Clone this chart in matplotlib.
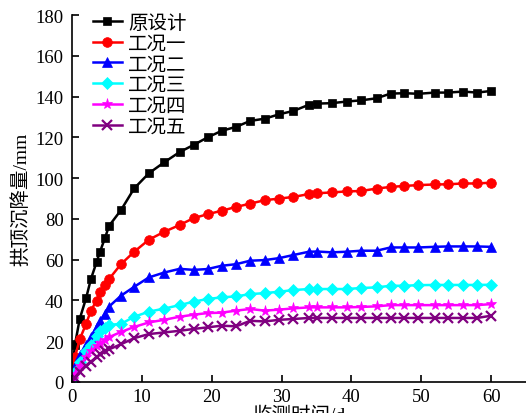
import matplotlib
matplotlib.use('Agg')
import matplotlib.pyplot as plt

# monitoring days (shared by all series)
days = [0, 0.4, 1.1, 2.0, 2.7, 3.5, 4.0, 4.7, 5.3, 7.0, 8.9, 11.0, 13.2, 15.4, 17.4, 19.4,
        21.4, 23.5, 25.5, 27.6, 29.7, 31.7, 33.9, 35.1, 37.2, 39.3, 41.4, 43.6, 45.6,
        47.6, 49.6, 51.9, 53.8, 56.0, 58.0, 60.0]

original = [3, 18, 31, 41, 50.5, 58.7, 63.9, 70.5, 76.6, 84.3, 95, 102.4, 107.8, 112.8,
            116.3, 120, 123.2, 125.2, 128.1, 129.2, 131.4, 133, 136, 136.6, 136.8, 137.6,
            138.2, 139.2, 141.5, 141.7, 141.4, 142, 142, 142.5, 142, 142.8]
case1 = [2, 12, 21, 28.4, 35, 39.9, 44, 47.5, 50.5, 57.8, 63.9, 69.8, 73.7, 77, 80.4,
         82.3, 84, 85.9, 87.5, 89.2, 90, 90.8, 92.2, 92.6, 93, 93.5, 93.7, 94.9, 95.7,
         96.2, 96.6, 96.9, 97, 97.4, 97.4, 97.8]
case2 = [1.5, 8, 13, 18, 22, 27, 30, 33.5, 37, 42.3, 46.7, 51.3, 53.7, 55.5, 55, 55.4,
         57, 57.8, 59.5, 59.8, 60.8, 62.3, 63.9, 64, 63.6, 63.9, 64.4, 64.4, 66, 66, 66,
         66.3, 66.5, 66.5, 66.5, 66.3]
case3 = [1, 5, 10, 15, 18, 22.5, 25, 26.5, 28, 28.5, 32, 34.5, 36, 37.7, 39.4, 40.7,
         41.5, 42, 43.1, 43.6, 44.3, 45.1, 45.6, 45.6, 45.6, 45.6, 46.1, 46.4, 47.2,
         47.2, 47.5, 47.6, 47.6, 47.6, 47.6, 47.7]
case4 = [0.8, 4, 8, 12, 15, 17.5, 19, 20.5, 22, 24.5, 27, 29.2, 30.5, 32, 33, 33.8, 34,
         35, 35.8, 35, 35.5, 36.1, 36.6, 36.6, 36.6, 36.6, 36.8, 37.1, 37.7, 37.7, 37.7,
         37.7, 37.7, 37.7, 37.7, 38.2]
case5 = [0.5, 2, 5, 8, 10, 12, 13.5, 15, 16, 18.5, 21.5, 23.5, 24.3, 25.1, 26, 26.8,
         27.6, 27.3, 30, 29.7, 30.5, 30.9, 31.4, 31.4, 31.4, 31.4, 31.4, 31.4, 31.4,
         31.4, 31.4, 31.4, 31.4, 31.4, 31.4, 32.5]

labels = ['原设计', '工况一', '工况二', '工况三', '工况四', '工况五']
series = [original, case1, case2, case3, case4, case5]
colors = ['black', 'red', 'blue', 'cyan', 'magenta', '#800080']
markers = ['s', 'o', '^', 'D', '*', 'x']
msizes = [6, 7, 7, 6, 8, 7]

fonts = ['Liberation Serif', 'Noto Sans CJK SC', 'DejaVu Sans']
plt.rcParams['font.family'] = fonts

fig = plt.figure(figsize=(5.26, 4.14), dpi=100)
ax = fig.add_axes([0.137, 0.075, 0.863, 0.886])

for vals, lab, c, m, ms in zip(series, labels, colors, markers, msizes):
    ax.plot(days, vals, color=c, marker=m, markersize=ms, linewidth=1.8,
            markeredgewidth=1.6 if m == 'x' else 0.5, label=lab)

ax.set_xlim(0, 65)
ax.set_ylim(0, 180)
ax.set_xticks(range(0, 61, 10))
ax.set_yticks(range(0, 181, 20))
ax.tick_params(direction='in', length=5, width=1.2, labelsize=13.5)
ax.tick_params(axis='y', pad=6)
ax.tick_params(axis='x', pad=4)
ax.spines['top'].set_visible(False)
ax.spines['right'].set_visible(False)
for s in ['left', 'bottom']:
    ax.spines[s].set_linewidth(1.2)

ax.set_ylabel('拱顶沉降量/mm', fontsize=14, labelpad=4)
ax.set_xlabel('监测时间/d', fontsize=14, labelpad=1)

ax.legend(loc='upper left', bbox_to_anchor=(0.02, 1.035), frameon=False,
          fontsize=14, handlelength=1.5, labelspacing=0.16, handletextpad=0.3,
          borderaxespad=0.2)

fig.savefig('out.png', dpi=100)
